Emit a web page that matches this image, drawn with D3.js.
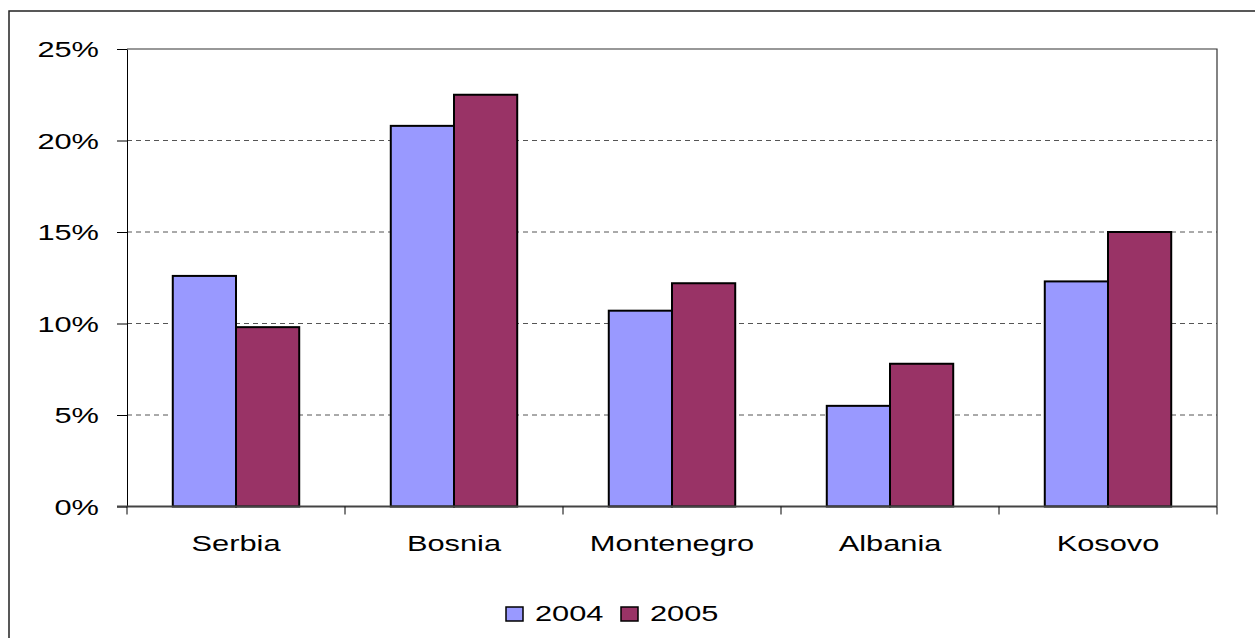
<!DOCTYPE html>
<html>
<head>
<meta charset="utf-8">
<script src="https://cdn.jsdelivr.net/npm/d3@7"></script>
<style>
  body { margin: 0; background: #fff; }
  svg text { font-family: "Liberation Sans", Arial, sans-serif; font-size: 22px; fill: #000; }
</style>
</head>
<body>
<svg id="chart" width="1255" height="638"></svg>
<script>
// DATA
const countries = ["Serbia", "Bosnia", "Montenegro", "Albania", "Kosovo"];
const years = ["2004", "2005"];
const values2004 = [12.6, 20.8, 10.7, 5.5, 12.3];
const values2005 = [9.8, 22.5, 12.2, 7.8, 15.0];
const yTicks = [0, 5, 10, 15, 20, 25];

const colors = { "2004": "#9999ff", "2005": "#993366" };

const svg = d3.select("#chart");

// layout
const plotLeft = 127;
const plotRight = 1217;
const plotTop = 49;
const plotBottom = 506.5;
const sx = 1.4; // text in the picture is drawn wide

// outer frame
svg.append("rect")
  .attr("x", 9)
  .attr("y", 11)
  .attr("width", 1300)
  .attr("height", 700)
  .attr("fill", "none")
  .attr("stroke", "#222")
  .attr("stroke-width", 1.5);

// SCALES
const x0 = d3.scaleBand()
  .domain(countries)
  .range([plotLeft, plotRight])
  .paddingInner(0.42)
  .paddingOuter(0.21);

const x1 = d3.scaleBand()
  .domain(years)
  .range([0, x0.bandwidth()]);

const y = d3.scaleLinear()
  .domain([0, 25])
  .range([plotBottom, plotTop]);

// grid lines
svg.append("g")
  .selectAll("line")
  .data(yTicks.filter(d => d > 0 && d < 25))
  .join("line")
  .attr("x1", plotLeft)
  .attr("x2", plotRight)
  .attr("y1", d => y(d))
  .attr("y2", d => y(d))
  .attr("stroke", "#555")
  .attr("stroke-width", 1)
  .attr("stroke-dasharray", "5,4");

// plot border (top + right)
svg.append("path")
  .attr("d", `M${plotLeft},${plotTop}H${plotRight}V${plotBottom}`)
  .attr("fill", "none")
  .attr("stroke", "#333")
  .attr("stroke-width", 1.2);

// BARS
const rows = countries.map((c, i) => ({ country: c, "2004": values2004[i], "2005": values2005[i] }));

svg.append("g")
  .selectAll("g")
  .data(rows)
  .join("g")
  .attr("transform", d => `translate(${x0(d.country)},0)`)
  .selectAll("rect")
  .data(d => years.map(k => ({ key: k, value: d[k] })))
  .join("rect")
  .attr("x", d => x1(d.key))
  .attr("y", d => y(d.value))
  .attr("width", x1.bandwidth())
  .attr("height", d => y(0) - y(d.value))
  .attr("fill", d => colors[d.key])
  .attr("stroke", "#000")
  .attr("stroke-width", 2);

// Y AXIS
const yAxis = svg.append("g")
  .attr("transform", `translate(${plotLeft},0)`)
  .call(d3.axisLeft(y).tickValues(yTicks).tickFormat(d => d + "%").tickSize(10).tickSizeOuter(0));
yAxis.select(".domain").attr("stroke", "#000").attr("stroke-width", 1);
yAxis.selectAll(".tick line").attr("stroke", "#000");
yAxis.selectAll(".tick text")
  .attr("x", -28 / sx)
  .attr("dy", "0.35em")
  .attr("transform", `scale(${sx},1)`)
  .style("font-size", "22px")
  .style("font-family", "'Liberation Sans', Arial, sans-serif");

// X AXIS line
svg.append("line")
  .attr("x1", plotLeft - 10)
  .attr("x2", plotRight)
  .attr("y1", y(0))
  .attr("y2", y(0))
  .attr("stroke", "#444")
  .attr("stroke-width", 2);

// category boundary ticks
const bounds = countries.map(c => x0(c) - x0.step() * 0.21).concat([plotRight]);
svg.append("g")
  .selectAll("line")
  .data(bounds)
  .join("line")
  .attr("x1", d => d)
  .attr("x2", d => d)
  .attr("y1", y(0))
  .attr("y2", y(0) + 8)
  .attr("stroke", "#000")
  .attr("stroke-width", 1);

// category labels
svg.append("g")
  .selectAll("text")
  .data(countries)
  .join("text")
  .attr("transform", d => `translate(${x0(d) + x0.bandwidth() / 2},551) scale(${sx},1)`)
  .attr("text-anchor", "middle")
  .text(d => d);

// LEGEND
const legendX = [506, 621];
const legend = svg.append("g")
  .selectAll("g")
  .data(years)
  .join("g")
  .attr("transform", (d, i) => `translate(${legendX[i]},607)`);
legend.append("rect")
  .attr("width", 17)
  .attr("height", 14)
  .attr("fill", d => colors[d])
  .attr("stroke", "#000")
  .attr("stroke-width", 1.5);
legend.append("text")
  .attr("transform", `translate(29,14) scale(${sx},1)`)
  .text(d => d);
</script>
</body>
</html>
